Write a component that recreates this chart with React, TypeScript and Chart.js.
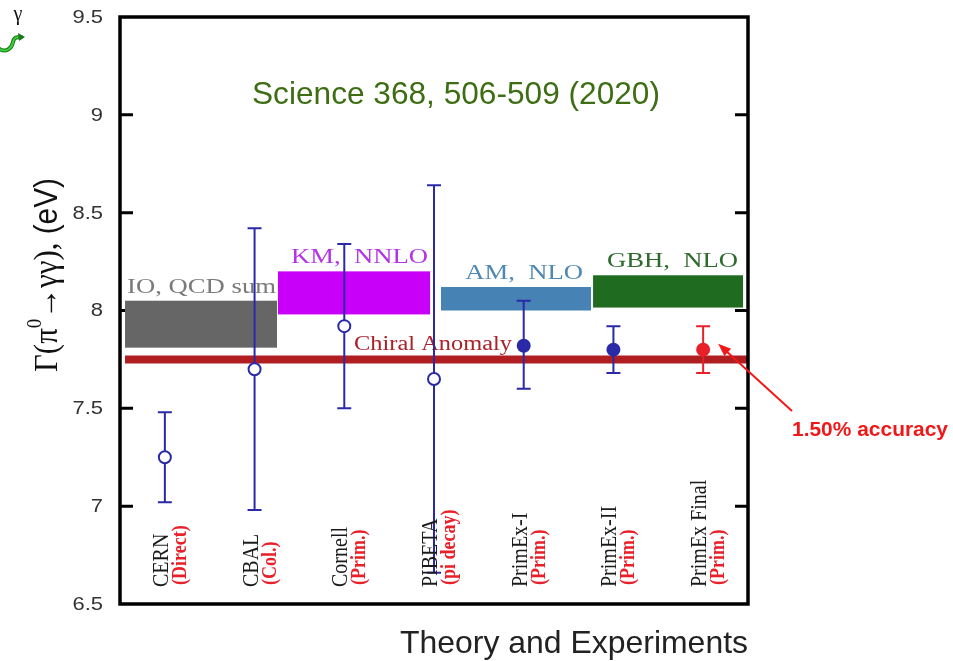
import React, { useEffect, useRef } from "react";
import { Chart, registerables } from "chart.js";

Chart.register(...registerables);

// ---------- data ----------
const CATEGORIES = ["CERN", "CBAL", "Cornell", "PIBETA", "PrimEx-I", "PrimEx-II", "PrimEx Final"];
const METHODS = ["(Direct)", "(Col.)", "(Prim.)", "(pi decay)", "(Prim.)", "(Prim.)", "(Prim.)"];
const WIDTH_VALUES = [7.25, 7.7, 7.92, 7.65, 7.82, 7.8, 7.8];
const ERR_HIGH = [7.48, 8.42, 8.34, 8.64, 8.05, 7.92, 7.92];
const ERR_LOW = [7.02, 6.98, 7.5, 6.66, 7.6, 7.68, 7.68];
const OPEN_MARKER = [true, true, true, true, false, false, false];
const HIGHLIGHT = [false, false, false, false, false, false, true];

const THEORY_NAMES = ["IO, QCD sum", "KM,  NNLO", "AM,  NLO", "GBH,  NLO"];
const THEORY_LOW = [7.81, 7.98, 8.0, 8.015];
const THEORY_HIGH = [8.05, 8.2, 8.12, 8.18];
const THEORY_FROM = [0.556, 2.261, 4.078, 5.773];
const THEORY_TO = [2.25, 3.956, 5.75, 7.445];

const CHIRAL_NAME = "Chiral Anomaly";
const CHIRAL_VALUE = 7.75;
const CHIRAL_FROM = 0.556;
const CHIRAL_TO = 7.49;

const Y_TICKS = [6.5, 7, 7.5, 8, 8.5, 9, 9.5];
const Y_MIN = 6.5;
const Y_MAX = 9.5;
const X_MIN = 0.5;
const X_MAX = 7.5;

// ---------- styles ----------
const BAND_COLORS = ["#666666", "#c800fa", "#4682b4", "#1f6b1f"];
const BAND_LABEL_COLORS = ["#7a7a7a", "#b533e6", "#4f88b3", "#2e6a2e"];
const CHIRAL_COLOR = "#b01e22";
const BLUE = "#2a2aa8";
const RED = "#e8202a";
const SERIF = "'Liberation Serif', 'Times New Roman', serif";
const SANS = "'Liberation Sans', Arial, sans-serif";

function drawStretched(
  ctx: CanvasRenderingContext2D,
  text: string,
  x: number,
  y: number,
  font: string,
  color: string,
  align: CanvasTextAlign,
  sx: number,
  baseline: CanvasTextBaseline = "alphabetic"
) {
  ctx.save();
  ctx.translate(x, y);
  ctx.scale(sx, 1);
  ctx.font = font;
  ctx.fillStyle = color;
  ctx.textAlign = align;
  ctx.textBaseline = baseline;
  ctx.fillText(text, 0, 0);
  ctx.restore();
}

function drawFit(
  ctx: CanvasRenderingContext2D,
  text: string,
  x: number,
  y: number,
  font: string,
  color: string,
  width: number
) {
  ctx.save();
  ctx.font = font;
  const w = ctx.measureText(text).width;
  ctx.translate(x, y);
  ctx.scale(width / w, 1);
  ctx.fillStyle = color;
  ctx.textAlign = "left";
  ctx.textBaseline = "alphabetic";
  ctx.fillText(text, 0, 0);
  ctx.restore();
}

function drawVertical(
  ctx: CanvasRenderingContext2D,
  text: string,
  x: number,
  y: number,
  font: string,
  color: string,
  sx: number
) {
  ctx.save();
  ctx.translate(x, y);
  ctx.scale(sx, 1);
  ctx.rotate(-Math.PI / 2);
  ctx.font = font;
  ctx.fillStyle = color;
  ctx.textAlign = "left";
  ctx.textBaseline = "alphabetic";
  ctx.fillText(text, 0, 0);
  ctx.restore();
}

const bandsPlugin = {
  id: "bandsAndErrors",
  beforeDatasetsDraw(chart: any) {
    const ctx: CanvasRenderingContext2D = chart.ctx;
    const xs = chart.scales.x;
    const ys = chart.scales.y;
    const a = chart.chartArea;
    ctx.save();
    // inward ticks (drawn under the bands)
    ctx.strokeStyle = "#000";
    ctx.lineWidth = 3;
    Y_TICKS.forEach((t) => {
      if (t > Y_MIN && t < Y_MAX) {
        const y = ys.getPixelForValue(t);
        ctx.beginPath();
        ctx.moveTo(a.left, y);
        ctx.lineTo(a.left + 13, y);
        ctx.moveTo(a.right, y);
        ctx.lineTo(a.right - 13, y);
        ctx.stroke();
      }
    });
    // theory bands
    THEORY_NAMES.forEach((name, i) => {
      const x0 = xs.getPixelForValue(THEORY_FROM[i]);
      const x1 = xs.getPixelForValue(THEORY_TO[i]);
      const y0 = ys.getPixelForValue(THEORY_HIGH[i]);
      const y1 = ys.getPixelForValue(THEORY_LOW[i]);
      ctx.fillStyle = BAND_COLORS[i];
      ctx.fillRect(x0, y0, x1 - x0, y1 - y0);
    });
    // band labels
    const labelOffsets = [1, 2, 8, 5];
    THEORY_NAMES.forEach((name, i) => {
      const xr = xs.getPixelForValue(THEORY_TO[i]) - labelOffsets[i];
      const yt = ys.getPixelForValue(THEORY_HIGH[i]) - 8;
      drawStretched(ctx, name, xr, yt, `21px ${SERIF}`, BAND_LABEL_COLORS[i], "right", 1.27);
    });
    // chiral anomaly line
    const cy = ys.getPixelForValue(CHIRAL_VALUE);
    ctx.strokeStyle = CHIRAL_COLOR;
    ctx.lineWidth = 8;
    ctx.beginPath();
    ctx.moveTo(xs.getPixelForValue(CHIRAL_FROM), cy);
    ctx.lineTo(xs.getPixelForValue(CHIRAL_TO), cy);
    ctx.stroke();
    drawStretched(ctx, CHIRAL_NAME, 433, cy - 9, `20px ${SERIF}`, "#a8222a", "center", 1.22);
    // error bars
    CATEGORIES.forEach((c, i) => {
      const x = xs.getPixelForValue(i + 1);
      const yh = ys.getPixelForValue(ERR_HIGH[i]);
      const yl = ys.getPixelForValue(ERR_LOW[i]);
      ctx.strokeStyle = HIGHLIGHT[i] ? RED : BLUE;
      ctx.lineWidth = 2;
      ctx.beginPath();
      ctx.moveTo(x, yh);
      ctx.lineTo(x, yl);
      ctx.moveTo(x - 7, yh);
      ctx.lineTo(x + 7, yh);
      ctx.moveTo(x - 7, yl);
      ctx.lineTo(x + 7, yl);
      ctx.stroke();
    });
    ctx.restore();
  },
  afterDraw(chart: any) {
    const ctx: CanvasRenderingContext2D = chart.ctx;
    const xs = chart.scales.x;
    const ys = chart.scales.y;
    const a = chart.chartArea;
    ctx.save();
    // frame
    ctx.strokeStyle = "#000";
    ctx.lineWidth = 3.5;
    ctx.strokeRect(a.left, a.top, a.right - a.left, a.bottom - a.top);
    // tick labels
    Y_TICKS.forEach((t) => {
      const y = ys.getPixelForValue(t);
      drawStretched(ctx, String(t), 103, y + 1, `18px ${SANS}`, "#333333", "right", 1.22, "middle");
    });
    // category labels
    CATEGORIES.forEach((c, i) => {
      const x = xs.getPixelForValue(i + 1);
      drawVertical(ctx, c, x + 3, 587, `20px ${SERIF}`, "#1a1a1a", 1.15);
      drawVertical(ctx, METHODS[i], x + 21, 585, `bold 18px ${SERIF}`, RED, 1.15);
    });
    // y axis title (rotated, mixed fonts)
    const pieces: [string, string, number][] = [
      ["Γ(π", `28px ${SERIF}`, 0],
      ["0", `17px ${SERIF}`, -13],
      ["→γγ),", `28px ${SERIF}`, 0],
      [" (eV)", `27px ${SANS}`, 0],
    ];
    let total = 0;
    pieces.forEach(([t, f]) => {
      ctx.font = f;
      total += ctx.measureText(t).width;
    });
    const targetLen = 194;
    ctx.save();
    ctx.translate(57, 372);
    ctx.scale(1.2, 1);
    ctx.rotate(-Math.PI / 2);
    ctx.scale(targetLen / total, 1);
    ctx.fillStyle = "#111";
    ctx.textBaseline = "alphabetic";
    ctx.textAlign = "left";
    let pos = 0;
    pieces.forEach(([t, f, dy]) => {
      ctx.font = f;
      ctx.fillText(t, pos, dy);
      pos += ctx.measureText(t).width;
    });
    ctx.restore();
    // x axis title
    drawFit(ctx, "Theory and Experiments", 400, 653, `32px ${SANS}`, "#222", 348);
    // reference text
    drawFit(ctx, "Science 368, 506-509 (2020)", 252, 104, `32px ${SANS}`, "#3e6e14", 408);
    // accuracy annotation
    drawFit(ctx, "1.50% accuracy", 792, 436, `bold 20px ${SANS}`, "#f01818", 156);
    const tipX = xs.getPixelForValue(7) + 15;
    const tipY = ys.getPixelForValue(WIDTH_VALUES[6]) - 6;
    const sx0 = 792, sy0 = 411;
    ctx.strokeStyle = "#f01818";
    ctx.fillStyle = "#f01818";
    ctx.lineWidth = 2;
    const ang = Math.atan2(tipY - sy0, tipX - sx0);
    const hl = 13;
    ctx.beginPath();
    ctx.moveTo(sx0, sy0);
    ctx.lineTo(tipX - Math.cos(ang) * hl * 0.8, tipY - Math.sin(ang) * hl * 0.8);
    ctx.stroke();
    ctx.beginPath();
    ctx.moveTo(tipX, tipY);
    ctx.lineTo(tipX - hl * Math.cos(ang) + 5 * Math.sin(ang), tipY - hl * Math.sin(ang) - 5 * Math.cos(ang));
    ctx.lineTo(tipX - hl * Math.cos(ang) - 5 * Math.sin(ang), tipY - hl * Math.sin(ang) + 5 * Math.cos(ang));
    ctx.closePath();
    ctx.fill();
    // slide fragments at top-left
    drawStretched(ctx, "γ", 18, 20, `20px ${SERIF}`, "#111", "center", 1);
    ctx.strokeStyle = "#1a7a1a";
    ctx.lineWidth = 4;
    ctx.lineCap = "round";
    ctx.beginPath();
    ctx.moveTo(-2, 48);
    ctx.bezierCurveTo(6, 54, 12, 48, 13, 42);
    ctx.bezierCurveTo(14, 37, 17, 37, 21, 37);
    ctx.stroke();
    ctx.strokeStyle = "#3ad03a";
    ctx.lineWidth = 2;
    ctx.beginPath();
    ctx.moveTo(-2, 48);
    ctx.bezierCurveTo(6, 54, 12, 48, 13, 42);
    ctx.bezierCurveTo(14, 37, 17, 37, 21, 37);
    ctx.stroke();
    ctx.fillStyle = "#1a7a1a";
    ctx.beginPath();
    ctx.moveTo(25, 37);
    ctx.lineTo(18, 33);
    ctx.lineTo(19, 41);
    ctx.closePath();
    ctx.fill();
    ctx.restore();
  },
};

export default function App() {
  const ref = useRef<HTMLCanvasElement | null>(null);
  useEffect(() => {
    if (!ref.current) return;
    const points = CATEGORIES.map((c, i) => ({ x: i + 1, y: WIDTH_VALUES[i] }));
    const colors = HIGHLIGHT.map((h) => (h ? RED : BLUE));
    const chart = new Chart(ref.current, {
      type: "scatter",
      data: {
        datasets: [
          {
            label: "Γ(π0→γγ)",
            data: points,
            pointRadius: 6,
            pointBorderWidth: 2,
            pointBorderColor: colors,
            pointBackgroundColor: OPEN_MARKER.map((o, i) => (o ? "#ffffff" : colors[i])),
            showLine: false,
          },
        ],
      },
      options: {
        animation: false,
        responsive: false,
        maintainAspectRatio: false,
        layout: { padding: { left: 120, right: 205, top: 17, bottom: 57 } },
        plugins: { legend: { display: false }, tooltip: { enabled: false }, title: { display: false } },
        scales: {
          x: { type: "linear", min: X_MIN, max: X_MAX, display: false },
          y: { type: "linear", min: Y_MIN, max: Y_MAX, display: false },
        },
      },
      plugins: [bandsPlugin],
    });
    return () => chart.destroy();
  }, []);
  return (
    <div style={{ position: "fixed", left: 0, top: 0, width: 953, height: 661, background: "#fff" }}>
      <canvas ref={ref} width={953} height={661} style={{ width: 953, height: 661, display: "block" }} />
    </div>
  );
}
